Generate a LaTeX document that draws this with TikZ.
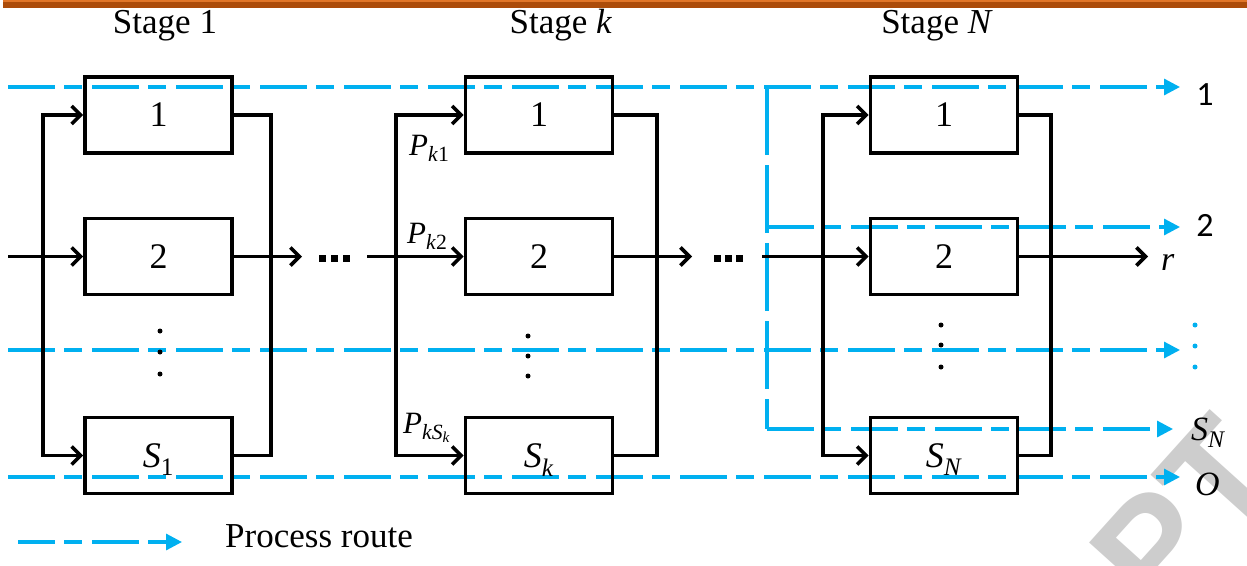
\documentclass[tikz,border=0pt]{standalone}
\usepackage{fontspec}
\setmainfont{Liberation Serif}
\newfontfamily\labelsans{Carlito}
\newfontfamily\wmfont{Liberation Sans}
\usetikzlibrary{arrows.meta}

\definecolor{routeblue}{RGB}{0,176,240}
\definecolor{barorange}{RGB}{172,76,10}
\definecolor{barlight}{RGB}{225,118,40}
\definecolor{wmgray}{RGB}{205,205,205}

\tikzset{
  stagebox/.style={draw, line width=3.6pt, minimum width=147pt, minimum height=76pt,
    inner sep=0pt, text depth=0pt, font=\fontsize{36}{36}\selectfont},
  wire/.style={line width=3.6pt},
  feed/.style={wire, -{Straight Barb[length=9pt,width=18pt]}},
  route/.style={routeblue, line width=3.2pt, dash pattern=on 47pt off 9pt on 18pt off 10pt},
  routeto/.style={route, -{Triangle[length=16pt,width=16pt]}},
  vroute/.style={routeblue, line width=3.2pt, dash pattern=on 68pt off 10pt},
  txt/.style={inner sep=0pt, font=\fontsize{35}{35}\selectfont},
  plabel/.style={inner sep=0pt, anchor=base west, font=\fontsize{31}{31}\selectfont},
  outlabel/.style={inner sep=0pt, font=\fontsize{34}{34}\labelsans},
  mathlabel/.style={inner sep=0pt, anchor=base west, font=\fontsize{34}{34}\selectfont},
  vdot/.style={circle, fill, inner sep=0pt, minimum size=5pt},
  gapdot/.style={rectangle, fill, inner sep=0pt, minimum size=7pt},
}

\begin{document}
\begin{tikzpicture}[x=1pt,y=-1pt]
\useasboundingbox (0,0) rectangle (1247,565);

% header rule
\fill[barorange] (3,0) rectangle (1247,8);
\fill[barlight] (3,0) rectangle (1247,1.5);

% watermark in the lower right corner
\begin{scope}
  \clip (0,0) rectangle (1247,565);
  \node[rotate=48, anchor=base west, inner sep=0pt, text=wmgray,
        font=\fontsize{150}{150}\wmfont\bfseries] (wm) at (1159,620) {PT};
\end{scope}

% ---------------- process routes (blue, dashed) ----------------
\coordinate (r1s) at (8,87);    \coordinate (r1e) at (1180,87);
\coordinate (vt)  at (767,87);  \coordinate (vm)  at (767,227);
\coordinate (vb)  at (767,429);
\coordinate (r2e) at (1180,227);
\coordinate (r3s) at (8,350);   \coordinate (r3e) at (1180,350);
\coordinate (r4e) at (1173,429);
\coordinate (r5s) at (8,477);   \coordinate (r5e) at (1180,477);

\draw[routeto] (r1s) -- (r1e);
\draw[vroute] (vt) -- (vb);
\draw[routeto] (vm) -- (r2e);
\draw[routeto] (r3s) -- (r3e);
\draw[routeto] (vb) -- (r4e);
\draw[routeto] (r5s) -- (r5e);

\node[outlabel] (o1) at (1205,95) {1};
\node[outlabel] (o2) at (1205,225) {2};
\node[vdot, routeblue] (od1) at (1195,325) {};
\node[vdot, routeblue] (od2) at (1195,346) {};
\node[vdot, routeblue] (od3) at (1195,367) {};
\node[mathlabel] (oS) at (1191,440) {\textit{S}\textsubscript{\textit{N}}};
\node[mathlabel] (oO) at (1195,495) {\textit{O}};

% ---------------- stage titles ----------------
\node[txt, anchor=base] (t1) at (165,33) {Stage 1};
\node[txt, anchor=base] (tk) at (561,33) {Stage \textit{k}};
\node[txt, anchor=base] (tN) at (937,33) {Stage \textit{N}};

% ---------------- stage 1 ----------------
\node[stagebox] (a1) at (158.5,115)   {1};
\node[stagebox] (a2) at (158.5,256.5) {2};
\node[stagebox] (aS) at (158.5,455.5) {\textit{S}\textsubscript{1}};
\node[vdot] (ad1) at (160,331) {};
\node[vdot] (ad2) at (160,352) {};
\node[vdot] (ad3) at (160,374) {};

\coordinate (aLt) at (43,115);  \coordinate (aLb) at (43,455.5);
\coordinate (aRt) at (271,115); \coordinate (aRb) at (271,455.5);
\draw[feed] (aLb) -- (aLt) -- (a1.west);
\draw[feed] (aLt) -- (aLb) -- (aS.west);
\draw[wire] (a1.east) -- (aRt) -- (aRb) -- (aS.east);

\coordinate (src) at (8,256.5);
\draw[feed] (src) -- (a2.west);

% link to stage k
\coordinate (g1a) at (302,256.5);
\coordinate (g1b) at (367,256.5);
\draw[feed] (a2.east) -- (g1a);
\node[gapdot] (g1d1) at (322,258) {};
\node[gapdot] (g1d2) at (334,258) {};
\node[gapdot] (g1d3) at (346,258) {};

% ---------------- stage k ----------------
\node[stagebox] (b1) at (539,115)   {1};
\node[stagebox] (b2) at (539,256.5) {2};
\node[stagebox] (bS) at (539,455.5) {\textit{S}\textsubscript{\textit{k}}};
\node[vdot] (bd1) at (528,336) {};
\node[vdot] (bd2) at (528,356) {};
\node[vdot] (bd3) at (528,376) {};

\coordinate (bLt) at (396,115); \coordinate (bLb) at (396,455.5);
\coordinate (bRt) at (657,115); \coordinate (bRb) at (657,455.5);
\draw[feed] (bLb) -- (bLt) -- (b1.west);
\draw[feed] (bLt) -- (bLb) -- (bS.west);
\draw[wire] (b1.east) -- (bRt) -- (bRb) -- (bS.east);
\draw[feed] (g1b) -- (b2.west);

\node[plabel] (pk1) at (409,155) {\textit{P}\textsubscript{\textit{k}1}};
\node[plabel] (pk2) at (407,243) {\textit{P}\textsubscript{\textit{k}2}};
\node[plabel] (pkS) at (403,433) {\textit{P}\textsubscript{\textit{kS}\textsubscript{\textit{k}}}};

% link to stage N
\coordinate (g2a) at (692,256.5);
\coordinate (g2b) at (762,256.5);
\draw[feed] (b2.east) -- (g2a);
\node[gapdot] (g2d1) at (717,258) {};
\node[gapdot] (g2d2) at (728,258) {};
\node[gapdot] (g2d3) at (739,258) {};

% ---------------- stage N ----------------
\node[stagebox] (c1) at (944,115)   {1};
\node[stagebox] (c2) at (944,256.5) {2};
\node[stagebox] (cS) at (944,455.5) {\textit{S}\textsubscript{\textit{N}}};
\node[vdot] (cd1) at (941,325) {};
\node[vdot] (cd2) at (941,345) {};
\node[vdot] (cd3) at (941,367) {};

\coordinate (cLt) at (823,115);  \coordinate (cLb) at (823,455.5);
\coordinate (cRt) at (1051,115); \coordinate (cRb) at (1051,455.5);
\draw[feed] (cLb) -- (cLt) -- (c1.west);
\draw[feed] (cLt) -- (cLb) -- (cS.west);
\draw[wire] (c1.east) -- (cRt) -- (cRb) -- (cS.east);
\draw[feed] (g2b) -- (c2.west);

\coordinate (rout) at (1148,256.5);
\draw[feed] (c2.east) -- (rout);
\node[mathlabel] (rl) at (1161,270) {\textit{r}};

% ---------------- legend ----------------
\coordinate (lgs) at (18,542);
\coordinate (lge) at (182,542);
\draw[routeto, dash phase=10pt] (lgs) -- (lge);
\node[txt, anchor=base west] (lgt) at (225,547) {Process route};

\end{tikzpicture}
\end{document}
